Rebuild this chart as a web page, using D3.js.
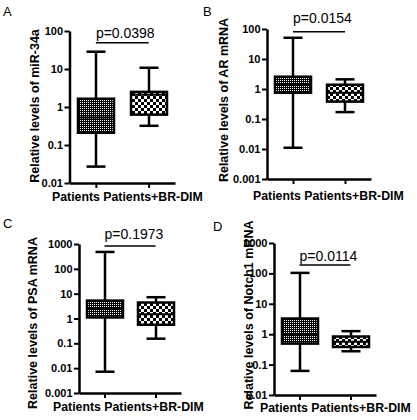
<!DOCTYPE html>
<html>
<head>
<meta charset="utf-8">
<script src="https://cdn.jsdelivr.net/npm/d3@7"></script>
<style>
  html, body { margin: 0; padding: 0; background: #fff; }
  svg { display: block; }
  text { font-family: "Liberation Sans", Arial, sans-serif; }
</style>
</head>
<body>
<svg id="chart" width="417" height="420"></svg>
<script>
// ---------- data ----------
const categories = ["Patients", "Patients+BR-DIM"];
const panelLetters = ["A", "B", "C", "D"];
const yLabels = [
  "Relative levels of miR-34a",
  "Relative levels of AR mRNA",
  "Relative levels of PSA mRNA",
  "Relative levels of Notch1 mRNA"
];
// box stats: [min, q1, median, q3, max] for each category
const boxA = [[0.027, 0.21, 0.53, 1.65, 28.5], [0.32, 0.63, 2.1, 2.5, 10.8]];
const boxB = [[0.011, 0.75, 1.36, 2.57, 51], [0.17, 0.38, 0.75, 1.39, 2.1]];
const boxC = [[0.0072, 1.1, 2.44, 5.25, 479], [0.154, 0.56, 1.5, 4.4, 7.2]];
const boxD = [[0.062, 0.49, 0.95, 3.28, 104], [0.275, 0.38, 0.56, 0.84, 1.26]];
const ticksA = [0.01, 0.1, 1, 10, 100];
const ticksB = [0.001, 0.01, 0.1, 1, 10, 100];
const ticksC = [0.001, 0.01, 0.1, 1, 10, 100, 1000];
const ticksD = [0.01, 0.1, 1, 10, 100, 1000];
const tickLabelsA = ["0.01", "0.1", "1", "10", "100"];
const tickLabelsB = ["0.001", "0.01", "0.1", "1", "10", "100"];
const tickLabelsC = ["0.001", "0.01", "0.1", "1", "10", "100", "1000"];
const tickLabelsD = ["0.01", "0.1", "1", "10", "100", "1000"];
const pTexts = ["p=0.0398", "p=0.0154", "p=0.1973", "p=0.0114"];
const sigBarLevels = [49, 81, 830, 190];

const boxes = [boxA, boxB, boxC, boxD];
const tickSets = [ticksA, ticksB, ticksC, ticksD];
const tickLabelSets = [tickLabelsA, tickLabelsB, tickLabelsC, tickLabelsD];

// ---------- layout (positions only) ----------
const layout = [
  { x0: 69.5, x1: 175, yTop: 31, yBot: 183, letter: [3, 16], ylab: [39, 106], cat: [52, 201], pDy: 5 },
  { x0: 267, x1: 371, yTop: 29, yBot: 179, letter: [203, 16], ylab: [228, 100], cat: [253, 200], pDy: 9 },
  { x0: 79, x1: 181, yTop: 244, yBot: 393, letter: [3, 228], ylab: [37, 323], cat: [53, 410.5], pDy: 7 },
  { x0: 274, x1: 376, yTop: 243, yBot: 395, letter: [213, 231], ylab: [253, 315], cat: [260, 411.5], pDy: 4 }
];

const svg = d3.select("#chart");
const defs = svg.append("defs");

// fine dotted pattern (Patients)
const p1 = defs.append("pattern").attr("id", "dots").attr("patternUnits", "userSpaceOnUse")
  .attr("width", 2).attr("height", 2);
p1.append("rect").attr("width", 2).attr("height", 2).attr("fill", "#000");
p1.append("rect").attr("width", 1).attr("height", 1).attr("fill", "#fff");

// checkerboard pattern (Patients+BR-DIM)
const p2 = defs.append("pattern").attr("id", "checks").attr("patternUnits", "userSpaceOnUse")
  .attr("width", 6).attr("height", 6);
p2.append("rect").attr("width", 6).attr("height", 6).attr("fill", "#000");
p2.append("rect").attr("x", 0).attr("y", 0).attr("width", 3).attr("height", 3).attr("fill", "#fff");
p2.append("rect").attr("x", 3).attr("y", 3).attr("width", 3).attr("height", 3).attr("fill", "#fff");

const fills = ["url(#dots)", "url(#checks)"];
const boxW = 36, capW = 19, lw = 2.5;

layout.forEach((L, i) => {
  const ticks = tickSets[i];
  const y = d3.scaleLog().domain([ticks[0], ticks[ticks.length - 1]]).range([L.yBot, L.yTop]);
  const x = d3.scalePoint().domain(categories).range([L.x0, L.x1]).padding(0.5);
  const g = svg.append("g");

  // panel letter
  svg.append("text").attr("x", L.letter[0]).attr("y", L.letter[1])
    .attr("font-size", 13).text(panelLetters[i]);

  // y label
  svg.append("text")
    .attr("transform", `translate(${L.ylab[0]},${L.ylab[1]}) rotate(-90)`)
    .attr("text-anchor", "middle").attr("font-size", 12.5).attr("font-weight", "bold")
    .text(yLabels[i]);

  // boxes
  boxes[i].forEach((s, j) => {
    const cx = Math.round(x(categories[j]));
    const bg = g.append("g").attr("stroke", "#000").attr("stroke-width", lw);
    bg.append("line").attr("x1", cx).attr("x2", cx).attr("y1", y(s[4])).attr("y2", y(s[0]));
    bg.append("line").attr("x1", cx - capW / 2).attr("x2", cx + capW / 2).attr("y1", y(s[4])).attr("y2", y(s[4]));
    bg.append("line").attr("x1", cx - capW / 2).attr("x2", cx + capW / 2).attr("y1", y(s[0])).attr("y2", y(s[0]));
    bg.append("rect").attr("x", cx - boxW / 2).attr("width", boxW)
      .attr("y", y(s[3])).attr("height", y(s[1]) - y(s[3]))
      .attr("fill", fills[j]);
    bg.append("line").attr("x1", cx - boxW / 2).attr("x2", cx + boxW / 2)
      .attr("y1", y(s[2])).attr("y2", y(s[2])).attr("stroke-width", 2);
  });

  // axes
  const ya = g.append("g").attr("transform", `translate(${L.x0},0)`)
    .call(d3.axisLeft(y).tickValues(ticks).tickFormat((d, k) => tickLabelSets[i][k])
      .tickSize(5).tickSizeOuter(0).tickPadding(1.5));
  const xa = g.append("g").attr("transform", `translate(0,${L.yBot})`)
    .call(d3.axisBottom(x).tickSize(5).tickSizeOuter(0).tickFormat(""));
  [ya, xa].forEach(a => {
    a.select(".domain").attr("stroke-width", 2.5);
    a.selectAll(".tick line").attr("stroke-width", 2);
  });
  ya.selectAll(".tick text").attr("font-size", 11).attr("font-weight", "bold")
    .attr("font-family", "Liberation Sans, Arial, sans-serif").attr("fill", "#000");

  // category labels
  svg.append("text").attr("x", L.cat[0]).attr("y", L.cat[1])
    .attr("font-size", 12.3).attr("font-weight", "bold")
    .text(categories.join(" "));

  // significance bar
  const bx1 = x(categories[0]), bx2 = x(categories[1]);
  const by = y(sigBarLevels[i]);
  g.append("line").attr("x1", bx1).attr("x2", bx2).attr("y1", by).attr("y2", by)
    .attr("stroke", "#000").attr("stroke-width", 1.5);
  svg.append("text").attr("x", bx1).attr("y", by - L.pDy)
    .attr("font-size", 14).text(pTexts[i]);
});
</script>
</body>
</html>
